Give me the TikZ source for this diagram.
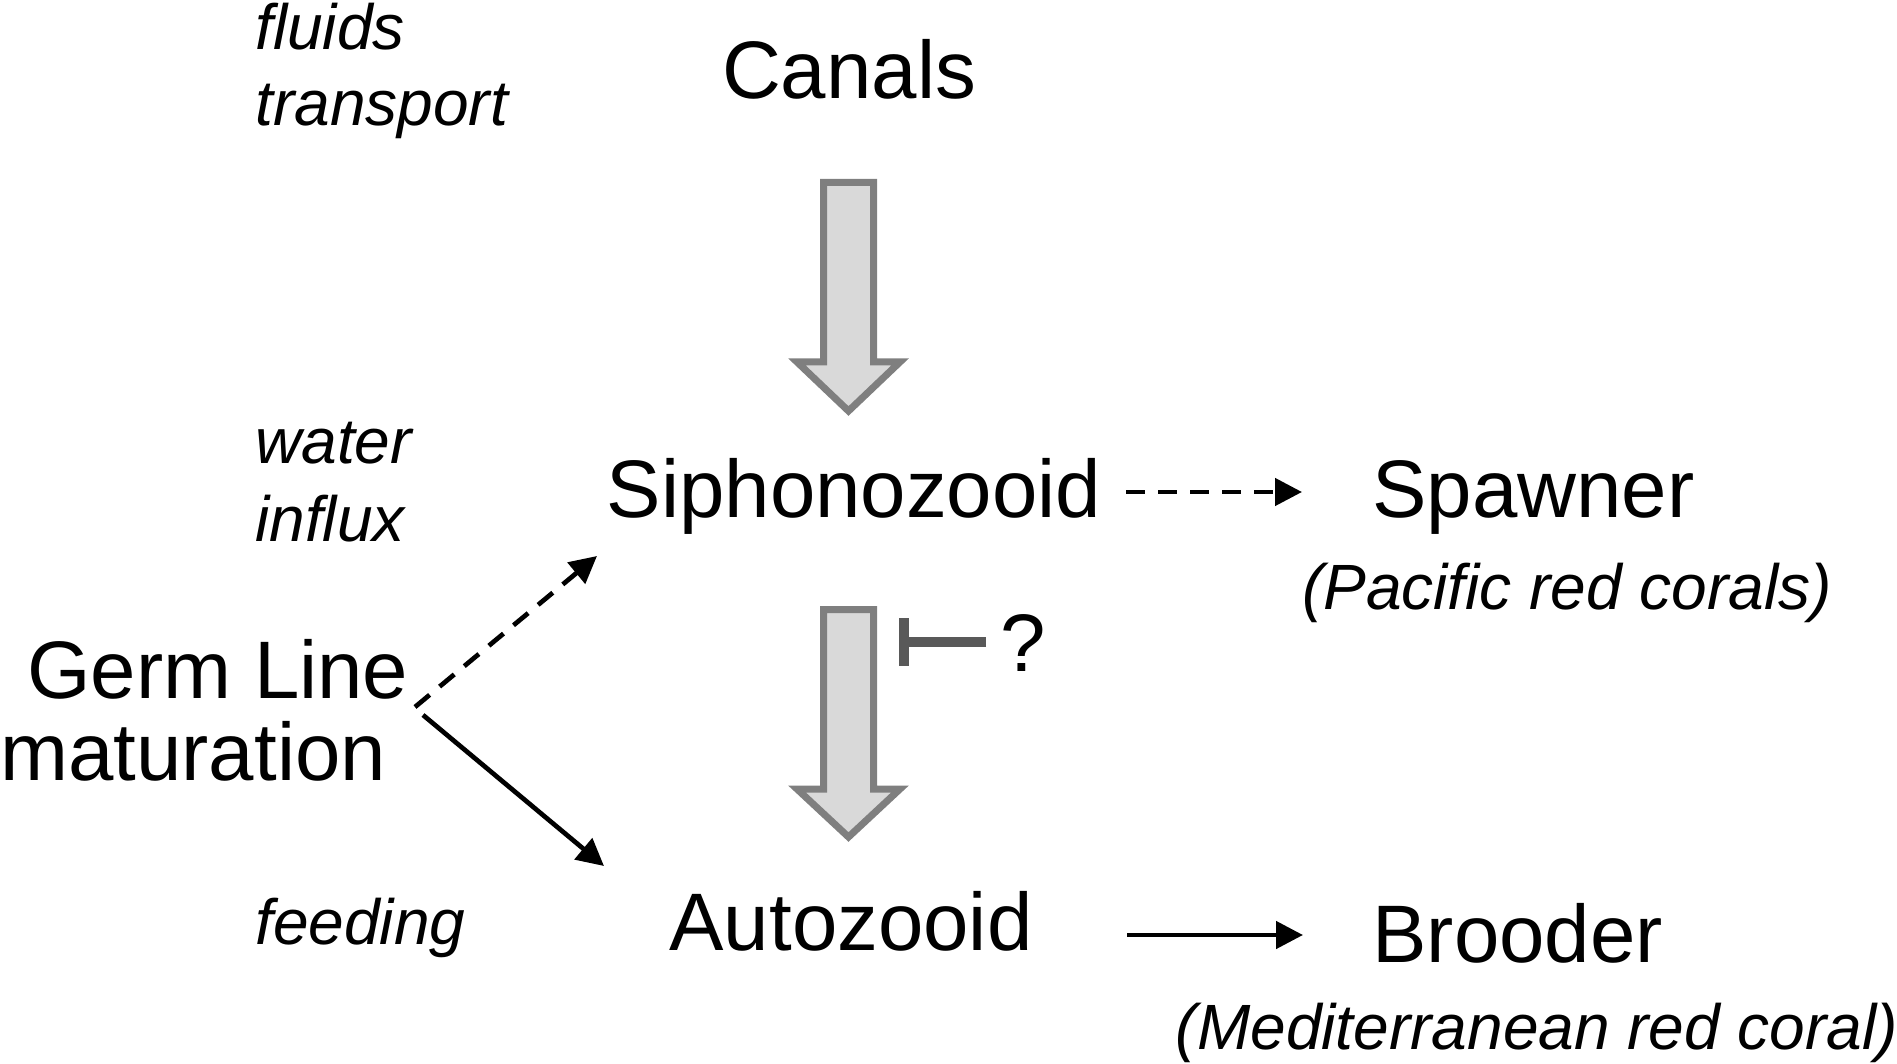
\documentclass[tikz,border=0pt]{standalone}
\usepackage{fontspec}
\setmainfont{Liberation Sans}
\usetikzlibrary{arrows.meta}
\definecolor{blockfill}{HTML}{D9D9D9}
\definecolor{blockline}{HTML}{7F7F7F}
\definecolor{inhib}{HTML}{595959}
\tikzset{
  big/.style={inner sep=0pt, font=\fontsize{40.8}{48}\selectfont},
  small/.style={inner sep=0pt, anchor=base west, font=\fontsize{32}{38}\selectfont\itshape},
  blockarrow/.style={draw=blockline, fill=blockfill, line width=3.5pt, line join=miter},
  conn/.style={line width=2.35pt, -{Triangle[length=13.5pt,width=13.5pt]}},
  dashconn/.style={conn, dash pattern=on 9.5pt off 6.5pt},
}
\begin{document}
\begin{tikzpicture}[x=0.5pt,y=-0.5pt]
\useasboundingbox (0,0) rectangle (1897,1064);
% texts
\node[big, anchor=base] (canals) at (849,99) {Canals};
\node[big, anchor=base] (siph) at (854,517) {Siphonozooid};
\node[big, anchor=base west] (spawner) at (1372,517) {Spawner};
\node[small, anchor=base] (pacific) at (1567,609) {(Pacific red corals)};
\node[big, anchor=base west] (germ) at (27,698) {Germ Line};
\node[big, anchor=base west] (matur) at (0,780) {maturation};
\node[big, anchor=base] (auto) at (851,950) {Autozooid};
\node[big, anchor=base west] (brooder) at (1372,962) {Brooder};
\node[small, anchor=base] (medit) at (1537,1049) {(Mediterranean red coral)};
\node[small] (fluids) at (255,50) {fluids};
\node[small] (transport) at (255,126) {transport};
\node[small] (water) at (255,464) {water};
\node[small] (influx) at (255,541) {influx};
\node[small] (feeding) at (255,944) {feeding};
\node[big, anchor=base] (qmark) at (1023,671) {?};
% block arrows
\draw[blockarrow] (823.5,182.5) -- (873.5,182.5) -- (873.5,362) -- (900,362) -- (848.5,411) -- (797,362) -- (823.5,362) -- cycle;
\draw[blockarrow] (823.5,609.5) -- (873.5,609.5) -- (873.5,789) -- (900,789) -- (848.5,837) -- (797,789) -- (823.5,789) -- cycle;
% inhibition
\coordinate (inhA) at (986,642);
\coordinate (inhB) at (904,642);
\coordinate (inhT) at (904,618);
\coordinate (inhD) at (904,666);
\draw[inhib, line width=5pt] (inhA) -- (inhB);
\draw[inhib, line width=5pt] (inhT) -- (inhD);
% connectors
\coordinate (g1) at (415,707);
\coordinate (s1) at (597,556);
\coordinate (g2) at (423,715);
\coordinate (a1) at (604,866);
\coordinate (sp0) at (1126,492);
\coordinate (sp1) at (1302,492);
\coordinate (br0) at (1127,935);
\coordinate (br1) at (1303,935);
\draw[dashconn] (g1) -- (s1);
\draw[conn] (g2) -- (a1);
\draw[dashconn] (sp0) -- (sp1);
\draw[conn] (br0) -- (br1);
\end{tikzpicture}
\end{document}
